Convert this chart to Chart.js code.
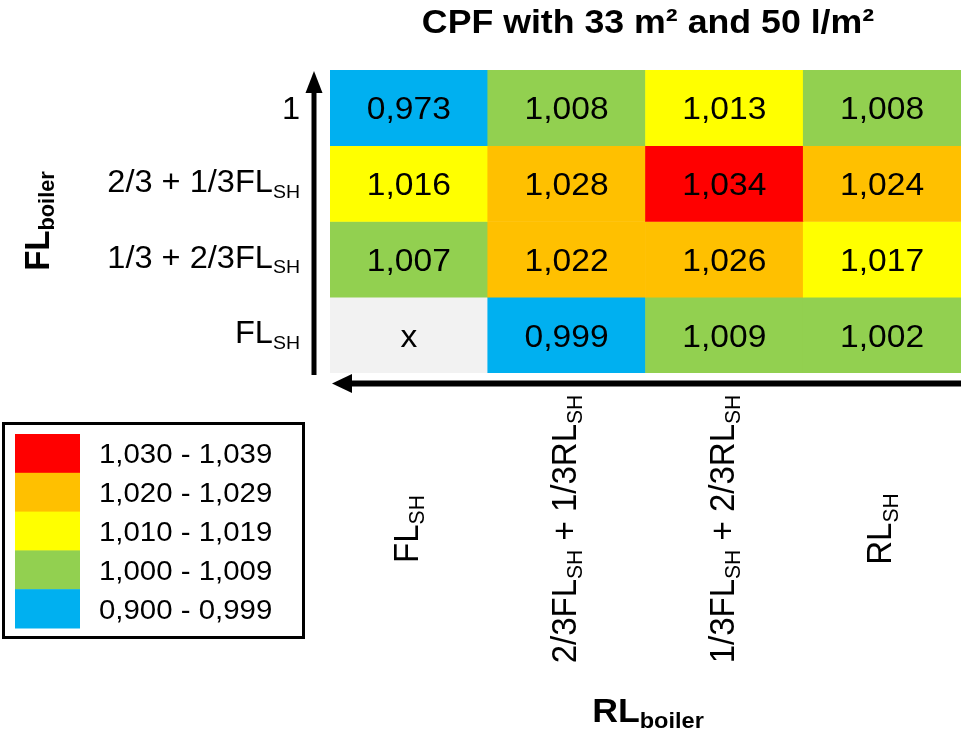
<!DOCTYPE html>
<html>
<head>
<meta charset="utf-8">
<title>CPF with 33 m² and 50 l/m²</title>
<script src="https://cdn.jsdelivr.net/npm/chart.js@4.4.1/dist/chart.umd.min.js"></script>
<style>
  html, body { margin: 0; padding: 0; background: #fff; }
  canvas { display: block; }
</style>
</head>
<body>
<canvas id="cpf" width="961" height="732"></canvas>
<script>
// _{..} marks a subscript
const TITLE = 'CPF with 33 m² and 50 l/m²';
const X_TITLE = 'RL_{boiler}';
const Y_TITLE = 'FL_{boiler}';
const COLUMNS = ['FL_{SH}', '2/3FL_{SH} + 1/3RL_{SH}', '1/3FL_{SH} + 2/3RL_{SH}', 'RL_{SH}'];
const ROWS = ['1', '2/3 + 1/3FL_{SH}', '1/3 + 2/3FL_{SH}', 'FL_{SH}']; // top to bottom

const ROW_1 = [0.973, 1.008, 1.013, 1.008];
const ROW_2 = [1.016, 1.028, 1.034, 1.024];
const ROW_3 = [1.007, 1.022, 1.026, 1.017];
const ROW_4 = [null, 0.999, 1.009, 1.002];
const VALUES = [ROW_1, ROW_2, ROW_3, ROW_4];

const BIN_LOW = [1.030, 1.020, 1.010, 1.000, 0.900];
const BIN_HIGH = [1.039, 1.029, 1.019, 1.009, 0.999];

const BIN_COLORS = ['#FF0000', '#FFC000', '#FFFF00', '#92D050', '#00B0F0'];
const MISSING_COLOR = '#F2F2F2';
const FAMILY = '"Liberation Sans", Arial, sans-serif';
const STRETCH = 1.05; // text in the original is a bit wide

const fmt = (v) => v.toFixed(3).replace('.', ',');
const binColor = (v) => {
  if (v == null) return MISSING_COLOR;
  const i = BIN_LOW.findIndex((lo) => v >= lo - 1e-9);
  return BIN_COLORS[i < 0 ? BIN_COLORS.length - 1 : i];
};

function richParts(str) {
  const parts = [];
  const re = /_\{([^}]*)\}/g;
  let last = 0, m;
  while ((m = re.exec(str))) {
    if (m.index > last) parts.push({ t: str.slice(last, m.index), sub: false });
    parts.push({ t: m[1], sub: true });
    last = re.lastIndex;
  }
  if (last < str.length) parts.push({ t: str.slice(last), sub: false });
  return parts;
}

// draws text centred vertically on the origin, subscripts smaller and lower
function drawRich(ctx, str, size, opts = {}) {
  const { bold = false, align = 'center', subScale = 0.6, subDrop = 0.18 } = opts;
  const parts = richParts(str);
  const hasSub = parts.some((p) => p.sub);
  const font = (s) => (bold ? 'bold ' : '') + s + 'px ' + FAMILY;
  let total = 0;
  parts.forEach((p) => {
    ctx.font = font(p.sub ? size * subScale : size);
    p.w = ctx.measureText(p.t).width;
    total += p.w;
  });
  const capH = 0.716 * size;
  const drop = hasSub ? subDrop * size : 0;
  const base = (capH - drop) / 2;
  let x = align === 'center' ? -total / 2 : align === 'right' ? -total : 0;
  ctx.textAlign = 'left';
  ctx.textBaseline = 'alphabetic';
  ctx.fillStyle = '#000';
  parts.forEach((p) => {
    ctx.font = font(p.sub ? size * subScale : size);
    ctx.fillText(p.t, x, p.sub ? base + drop : base);
    x += p.w;
  });
}

function textAt(ctx, str, x, y, size, opts = {}) {
  ctx.save();
  ctx.translate(x, y);
  ctx.scale(STRETCH, 1);
  if (opts.rotate) ctx.rotate(opts.rotate);
  drawRich(ctx, str, size, opts);
  ctx.restore();
}

const decorations = {
  id: 'decorations',
  afterDatasetsDraw(chart) {
    const { ctx, chartArea: area, scales } = chart;
    const n = VALUES.length;

    // cell values
    chart.data.datasets.forEach((ds, r) => {
      chart.getDatasetMeta(r).data.forEach((bar, c) => {
        const v = VALUES[r][c];
        textAt(ctx, v == null ? 'x' : fmt(v), bar.x, (bar.y + bar.base) / 2, 32);
      });
    });

    // row labels
    ROWS.forEach((lab, r) => {
      const y = scales.y.getPixelForValue(n - r - 0.5);
      textAt(ctx, lab, area.left - 30, y, 31, { align: 'right' });
    });

    // column labels, rotated
    COLUMNS.forEach((lab, c) => {
      textAt(ctx, lab, scales.x.getPixelForValue(c), area.bottom + 156, 33,
        { rotate: -Math.PI / 2, subScale: 0.64 });
    });

    // arrows
    ctx.save();
    ctx.fillStyle = '#000';
    const ax = area.left - 16;
    ctx.fillRect(ax - 2.5, area.top + 20, 5, area.bottom + 2 - area.top - 20);
    ctx.beginPath();
    ctx.moveTo(ax, area.top + 1);
    ctx.lineTo(ax - 8.5, area.top + 23);
    ctx.lineTo(ax + 8.5, area.top + 23);
    ctx.closePath();
    ctx.fill();
    const ay = area.bottom + 10.5;
    ctx.fillRect(area.left + 18, ay - 3, area.right - area.left - 18, 6);
    ctx.beginPath();
    ctx.moveTo(area.left + 2, ay);
    ctx.lineTo(area.left + 22, ay - 9.5);
    ctx.lineTo(area.left + 22, ay + 9.5);
    ctx.closePath();
    ctx.fill();
    ctx.restore();

    // titles
    textAt(ctx, TITLE, 648, 21, 34, { bold: true });
    textAt(ctx, X_TITLE, 648, 713, 34, { bold: true, subScale: 0.66, subDrop: 0.16 });
    textAt(ctx, Y_TITLE, 39, 221, 33, { bold: true, subScale: 0.66, subDrop: 0.16, rotate: -Math.PI / 2 });

    // legend
    ctx.save();
    ctx.strokeStyle = '#000';
    ctx.lineWidth = 3;
    ctx.strokeRect(3.5, 423.5, 300, 214);
    ctx.restore();
    BIN_LOW.forEach((lo, i) => {
      const top = 434 + i * 38.8;
      ctx.fillStyle = BIN_COLORS[i];
      ctx.fillRect(15, top, 65, 38.8 + 0.5);
      textAt(ctx, fmt(lo) + ' - ' + fmt(BIN_HIGH[i]), 99, top + 19.4, 28, { align: 'left' });
    });
  },
};

const datasets = VALUES.map((row, r) => {
  const level = VALUES.length - 1 - r;
  return {
    label: ROWS[r],
    data: row.map(() => [level, level + 1]),
    backgroundColor: row.map(binColor),
    borderWidth: 0,
    borderSkipped: false,
    barPercentage: 1,
    categoryPercentage: 1,
    grouped: false,
  };
});

new Chart(document.getElementById('cpf'), {
  type: 'bar',
  data: { labels: COLUMNS, datasets },
  options: {
    responsive: false,
    animation: false,
    layout: { padding: { left: 330, right: 0, top: 70, bottom: 359 } },
    scales: {
      x: { type: 'category', display: false },
      y: { type: 'linear', min: 0, max: 4, display: false },
    },
    plugins: {
      legend: { display: false },
      tooltip: { enabled: false },
    },
  },
  plugins: [decorations],
});
</script>
</body>
</html>
